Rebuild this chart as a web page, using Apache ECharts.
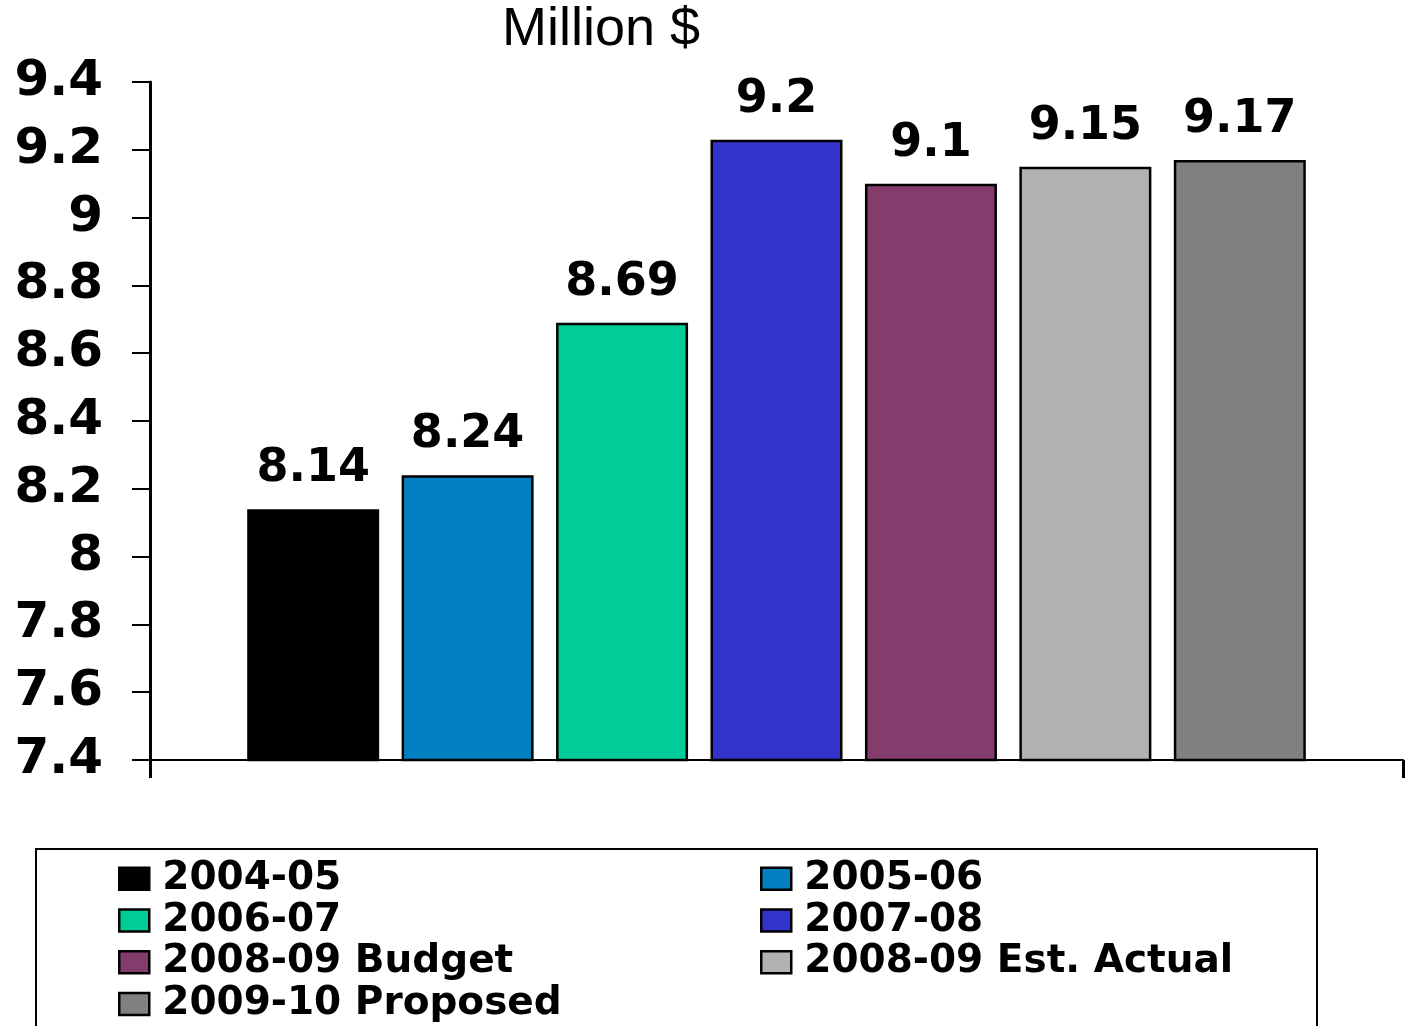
<!DOCTYPE html>
<html>
<head>
<meta charset="utf-8">
<script src="https://cdn.jsdelivr.net/npm/echarts@6/dist/echarts.min.js"></script>
<style>html,body{margin:0;padding:0;background:#fff;}#c{width:1410px;height:1026px;}</style>
</head>
<body>
<div id="c"></div>
<script>
const seriesNames = ["2004-05","2005-06","2006-07","2007-08","2008-09 Budget","2008-09 Est. Actual","2009-10 Proposed"];
const seriesValues = [8.14, 8.24, 8.69, 9.23, 9.10, 9.15, 9.17];
const valueLabels = ["8.14","8.24","8.69","9.2","9.1","9.15","9.17"];
const seriesColors = ["#000000","#0080C0","#00CC99","#3333CC","#843C6C","#B2B2B2","#808080"];
const yTicks = {min: 7.4, max: 9.4, interval: 0.2};
const categories = [""];

const chart = echarts.init(document.getElementById('c'));
const numFont = 'DejaVu Sans';
const series = seriesNames.map((n, i) => ({
  name: n,
  type: 'bar',
  data: [seriesValues[i]],
  barWidth: 132,
  barGap: '17%',
  itemStyle: {color: seriesColors[i], borderColor: '#000', borderWidth: 2.5},
  label: {
    show: true, position: 'top', distance: 17,
    formatter: () => valueLabels[i],
    fontFamily: numFont, fontWeight: 'bold', fontSize: 46, color: '#000'
  }
}));

const legendCommon = {
  orient: 'vertical',
  itemWidth: 30, itemHeight: 22, itemGap: 0,
  padding: 0,
  icon: 'rect',
  selectedMode: false,
  itemStyle: {borderWidth: 2.5},
  textStyle: {fontFamily: numFont, fontWeight: 'bold', fontSize: 39, color: '#000', lineHeight: 41.7, padding: [0,0,0,8]}
};

chart.setOption({
  animation: false,
  backgroundColor: '#fff',
  title: {
    text: 'Million $', left: 601, textAlign: 'center', top: 3, padding: 0,
    textStyle: {fontFamily: 'Liberation Sans', fontWeight: 'normal', fontSize: 54, color: '#000'}
  },
  grid: {left: 150, right: 7, top: 82, bottom: 266, containLabel: false},
  xAxis: {
    type: 'category', data: categories,
    axisLine: {lineStyle: {color: '#000', width: 2}},
    axisTick: {show: true, length: 18, lineStyle: {color: '#000', width: 3}},
    axisLabel: {show: false}
  },
  yAxis: {
    type: 'value', min: yTicks.min, max: yTicks.max, interval: yTicks.interval,
    splitLine: {show: false},
    axisLine: {show: true, lineStyle: {color: '#000', width: 3}},
    axisTick: {show: true, length: 18, lineStyle: {color: '#000', width: 2}},
    axisLabel: {
      margin: 47, fontFamily: numFont, fontWeight: 'bold', fontSize: 50, color: '#000',
      padding: [12, 0, 0, 0],
      formatter: v => String(parseFloat(v.toFixed(1)))
    }
  },
  legend: [
    Object.assign({left: 118, top: 858, data: [seriesNames[0], seriesNames[2], seriesNames[4], seriesNames[6]]}, legendCommon),
    Object.assign({left: 760, top: 858, data: [seriesNames[1], seriesNames[3], seriesNames[5]]}, legendCommon)
  ],
  graphic: [{
    type: 'rect', left: 35, top: 848, z: -1,
    shape: {width: 1281, height: 200},
    style: {fill: '#fff', stroke: '#000', lineWidth: 2}
  }],
  series: series
});
</script>
</body>
</html>
